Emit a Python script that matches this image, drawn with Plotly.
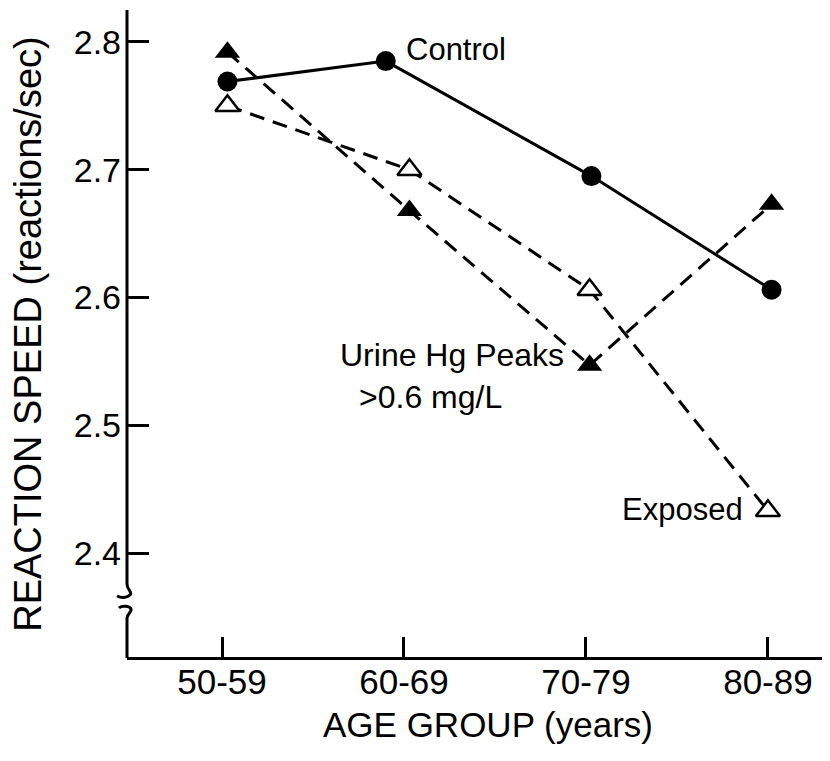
"""Reaction speed by age group, control vs. mercury-exposed workers (Plotly)."""

import plotly.graph_objects as go

# ---- data ------------------------------------------------------------------
age_groups = ["50-59", "60-69", "70-79", "80-89"]
age_pos = [0, 1, 2, 3]

control_x = [0.03, 0.90, 2.03, 3.02]
control_y = [2.769, 2.785, 2.695, 2.606]

peaks_x = [0.03, 1.03, 2.02, 3.02]
peaks_y = [2.792, 2.668, 2.547, 2.673]

exposed_x = [0.03, 1.03, 2.02, 3.0]
exposed_y = [2.750, 2.700, 2.606, 2.433]

y_ticks = [2.4, 2.5, 2.6, 2.7, 2.8]
y_tick_text = ["2.4", "2.5", "2.6", "2.7", "2.8"]

FONT = "Liberation Sans, Arial, sans-serif"
INK = "black"

fig = go.Figure()

fig.add_trace(
    go.Scatter(
        x=control_x,
        y=control_y,
        mode="lines+markers",
        name="Control",
        line=dict(color=INK, width=3),
        marker=dict(symbol="circle", size=20, color=INK),
    )
)
fig.add_trace(
    go.Scatter(
        x=peaks_x,
        y=peaks_y,
        mode="lines+markers",
        name="Urine Hg Peaks >0.6 mg/L",
        line=dict(color=INK, width=3, dash="15px,9px"),
        marker=dict(symbol="triangle-up", size=22, color=INK),
    )
)
fig.add_trace(
    go.Scatter(
        x=exposed_x,
        y=exposed_y,
        mode="lines+markers",
        name="Exposed",
        line=dict(color=INK, width=3, dash="15px,9px"),
        marker=dict(
            symbol="triangle-up",
            size=21,
            color="white",
            line=dict(color=INK, width=2.5),
        ),
    )
)

# series labels
labels = [
    ("Control", 1.0, 2.7937, 31),
    ("Urine Hg Peaks", 0.637, 2.555, 32),
    (">0.6 mg/L", 0.74, 2.522, 32),
    ("Exposed", 2.187, 2.434, 31),
]
for text, lx, ly, size in labels:
    fig.add_annotation(
        x=lx, y=ly, text=text, showarrow=False,
        xanchor="left", yanchor="middle",
        font=dict(family=FONT, size=size, color=INK),
    )

# axis titles
fig.add_annotation(
    xref="paper", yref="paper", x=0, y=0.498, xshift=-99,
    text="REACTION SPEED (reactions/sec)", textangle=-90,
    showarrow=False, xanchor="center", yanchor="middle",
    font=dict(family=FONT, size=38, color=INK),
)
fig.add_annotation(
    xref="paper", yref="paper", x=0.513, y=-0.105,
    text="AGE GROUP (years)", showarrow=False,
    xanchor="center", yanchor="middle",
    font=dict(family=FONT, size=35, color=INK),
)

# y axis drawn by hand so it can carry the break mark
BREAK_TOP = 0.1128  # paper y where the break starts
fig.add_shape(
    type="line", xref="paper", yref="paper",
    x0=0, x1=0, y0=BREAK_TOP, y1=1,
    line=dict(color=INK, width=3), layer="above",
)
fig.add_shape(
    type="path", xref="paper", yref="paper",
    xsizemode="pixel", ysizemode="pixel",
    xanchor=0, yanchor=BREAK_TOP,
    path=(
        "M 0 0 C 0 -6, 6 -8, 3 -11 C 0 -14, -6 -14, -10 -12 "
        "M -8 -24 C -5 -21, 3 -22, 4 -25 C 5 -28, 0 -30, 0 -34 L 0 -74"
    ),
    line=dict(color=INK, width=3), layer="above",
)

fig.update_layout(
    width=822,
    height=753,
    margin=dict(l=119, r=0, t=2, b=104),
    plot_bgcolor="white",
    paper_bgcolor="white",
    showlegend=False,
    font=dict(family=FONT, color=INK),
)
fig.update_xaxes(
    range=[-0.522, 3.341],
    tickvals=age_pos,
    ticktext=age_groups,
    ticks="inside",
    ticklen=20,
    tickwidth=2.5,
    tickcolor=INK,
    ticklabelstandoff=-8,
    tickfont=dict(family=FONT, size=35, color=INK),
    showline=True,
    linecolor=INK,
    linewidth=3,
    showgrid=False,
    zeroline=False,
)
fig.update_yaxes(
    range=[2.3186, 2.825],
    tickvals=y_ticks,
    ticktext=y_tick_text,
    ticks="inside",
    ticklen=22,
    tickwidth=2.5,
    tickcolor=INK,
    ticklabelstandoff=5,
    tickfont=dict(family=FONT, size=34, color=INK),
    showline=False,
    showgrid=False,
    zeroline=False,
)

fig.write_html("out.html")
